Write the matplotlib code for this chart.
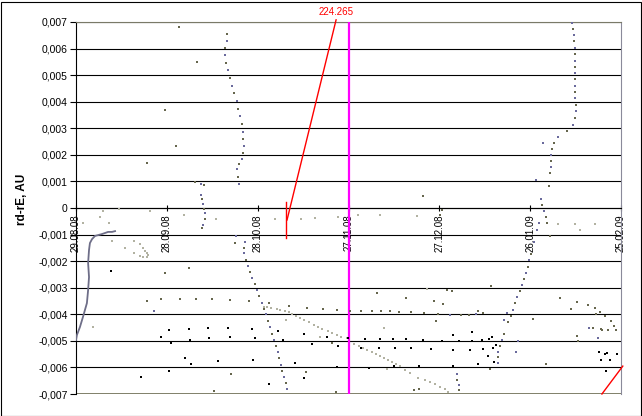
import numpy as np
import matplotlib
matplotlib.use("Agg")
import matplotlib.pyplot as plt
from matplotlib.ticker import FuncFormatter
from matplotlib.patches import Rectangle

# x = days since 29.08.08, y = rd-rE in 1e-3 AU
date_ticks = [0, 30, 60, 90, 120, 150, 180]
date_labels = ["29.08.08", "28.09.08", "28.10.08", "27.11.08", "27.12.08", "26.01.09", "25.02.09"]

# dotted track (autumn)
track1_x = [49.9, 49.9, 49.2, 49.2, 49.5, 50.2, 50.9, 51.5, 52.2, 53.2, 53.5, 54.2, 54.8, 55.1,
            55.1, 55.5, 55.1, 54.8, 53.8, 53.2, 53.5, 53.8,
            39.3, 41.3, 42.3, 41.3, 41.6, 41.9, 42.3, 42.6, 42.6, 41.9, 41.6,
            52.8, 52.5, 55.8, 55.5, 55.5, 56.1, 56.8, 57.5, 58.1, 59.1, 59.8, 60.4, 61.4, 62.1,
            62.7, 63.4, 64.1, 64.7, 65.4, 66.0, 66.7, 67.0, 67.7, 68.0, 68.7, 69.3, 69.7]
track1_y = [6.55, 6.29, 6.02, 5.76, 5.46, 5.19, 4.89, 4.59, 4.33, 4.03, 3.73, 3.46, 3.16, 2.86,
            2.60, 2.33, 2.07, 1.84, 1.66, 1.47, 1.17, 0.90,
            0.98, 0.90, 0.87, 0.49, 0.34, 0.15, -0.04, -0.19, -0.41, -0.64, -0.75,
            -1.05, -1.32, -1.28, -1.51, -1.69, -1.96, -2.18, -2.41, -2.63, -2.86, -3.09, -3.31, -3.58, -3.80,
            -3.99, -4.25, -4.48, -4.74, -4.97, -5.19, -5.42, -5.65, -5.91, -6.14, -6.36, -6.59, -6.81]

# dotted track (winter)
track2_x = [163.8, 164.1, 164.4, 164.4, 164.8, 164.8, 164.8, 164.8, 164.8, 164.8, 164.8, 164.8, 164.8,
            165.1, 165.1, 164.8, 164.1, 162.1, 159.2, 157.8, 154.2, 157.2, 156.8, 156.8, 156.8, 156.5,
            151.9, 156.2, 153.5, 153.9, 154.5, 155.2, 152.9, 155.5, 152.2, 156.5, 151.2, 150.2, 149.6,
            149.3, 148.6, 147.9, 147.3, 146.6, 145.6, 145.0, 144.3, 143.6, 142.3, 142.6, 141.3, 141.3,
            140.7, 140.0, 139.3, 139.3, 139.3, 136.7, 125.8, 125.8, 126.5, 126.5]
track2_y = [6.96, 6.74, 6.51, 6.29, 6.02, 5.80, 5.53, 5.31, 5.08, 4.86, 4.59, 4.37, 4.14,
            3.88, 3.65, 3.39, 3.12, 2.90, 2.67, 2.45, 2.45, 2.22, 1.99, 1.77, 1.54, 1.32,
            1.05, 0.83, 0.34, 0.11, -0.11, -0.34, -0.56, -0.56, -0.83, -1.05, -1.28, -1.73, -1.96,
            -2.22, -2.45, -2.67, -2.90, -3.12, -3.35, -3.58, -3.84, -4.07, -3.95, -4.29, -4.22, -4.74,
            -4.97, -5.19, -5.42, -5.61, -5.83, -6.06, -6.25, -6.47, -6.66, -6.85]

# solid curve at the start
curve_x = [0.0, 0.3, 1.3, 2.3, 3.6, 4.0, 4.3, 4.0, 4.3, 4.6, 5.3, 6.3, 7.3, 8.6, 9.6, 10.6, 11.9, 12.9]
curve_y = [-4.97, -4.78, -4.48, -4.10, -3.58, -3.09, -2.60, -2.07, -1.58, -1.32, -1.17, -1.05,
           -1.02, -0.98, -0.94, -0.90, -0.90, -0.87]

light_x = [2.3, 7.9, 8.9, 14.2, 10.9, 11.9, 16.2, 19.2, 19.2, 21.1, 22.1, 22.8, 23.4, 23.8, 23.4,
           22.1, 21.1, 24.4, 5.6, 35.7, 46.2, 65.7, 74.3, 78.9, 86.5, 93.1, 100.4, 112.6, 159.2,
           164.8, 166.4, 171.4, 69.3, 80.6, 101.7, 102.7, 115.9,
           62.1, 63.1, 64.4, 66.4, 67.4, 69.0, 70.3, 71.3, 72.6, 74.0, 75.3, 76.9, 78.6, 79.9, 81.2,
           83.2, 84.5, 86.2, 87.5, 89.5, 91.8, 93.4, 94.8, 96.1, 97.7, 99.1, 100.4, 101.7, 103.0,
           104.3, 105.7, 107.0, 108.6, 110.3, 112.9, 115.2, 116.9, 118.5, 120.2, 121.8, 122.8]
light_y = [-0.56, -0.34, -0.11, -0.04, -0.56, -1.24, -1.51, -1.24, -1.69, -1.36, -1.51, -1.62, -1.69,
           -1.77, -1.84, -1.84, -1.81, -0.11, -4.48, -0.26, -0.41, -0.41, -0.41, -0.38, -0.34, -0.26,
           -0.26, -0.30, -0.60, -0.60, -0.83, -0.60, -4.22, -4.86, -4.52, -6.06, -3.05,
           -3.73, -3.73, -3.76, -3.80, -3.84, -3.88, -3.91, -3.99, -4.07, -4.14, -4.22, -4.29, -4.40,
           -4.48, -4.55, -4.63, -4.71, -4.78, -4.86, -4.89, -5.12, -5.19, -5.27, -5.34, -5.42, -5.50,
           -5.57, -5.65, -5.72, -5.80, -5.87, -5.95, -6.10, -6.21, -6.40, -6.47, -6.55, -6.62, -6.74,
           -6.81, -6.93]

black_x = [11.6, 30.7, 37.3, 43.6, 50.2, 58.1, 66.7, 28.1, 31.4, 37.6, 43.9, 50.9, 59.1, 68.4,
           36.0, 38.0, 46.9, 58.4, 72.3, 30.7, 21.5, 63.7, 75.3, 77.9, 82.9, 86.5, 89.8, 94.1, 95.4,
           100.1, 100.4, 105.3, 104.7, 110.6, 109.0, 114.6, 117.2, 120.9, 75.3, 86.2, 96.7, 105.0,
           113.3, 124.5, 126.5, 130.8, 130.8, 134.1, 136.4, 137.4, 138.7, 124.5, 130.1, 134.4, 137.7,
           136.0, 138.0, 132.7, 124.5, 172.7, 174.7, 175.3, 173.4, 176.3, 178.6, 175.0]
black_y = [-2.37, -4.59, -4.55, -4.52, -4.52, -4.55, -4.63, -4.86, -5.08, -4.97, -4.89, -4.86, -4.89,
           -4.97, -5.65, -5.87, -5.76, -5.72, -5.83, -6.14, -6.36, -6.62, -4.74, -5.12, -4.86, -5.19,
           -4.89, -5.27, -4.93, -5.27, -4.93, -5.27, -4.93, -5.27, -4.93, -4.97, -5.31, -5.01, -6.40,
           -5.98, -6.02, -5.95, -5.95, -4.78, -5.01, -4.67, -5.01, -4.97, -4.93, -4.86, -5.16, -5.34,
           -5.34, -5.31, -5.27, -5.57, -5.80, -5.87, -5.95, -5.42, -5.50, -5.46, -5.72, -5.72, -5.50,
           -6.14]

olive_x = [34.0, 40.0, 29.4, 33.0, 23.4, 29.4, 37.3, 23.4, 28.1, 34.3, 39.6, 44.9, 50.9, 57.1, 63.7,
           70.3, 45.6, 51.2, 76.3, 81.6, 86.2, 90.5, 94.1, 97.7, 100.7, 103.7, 106.7, 110.6, 114.9,
           119.5, 99.4, 109.0, 118.2, 121.2, 122.5, 124.2, 118.9, 84.5, 75.9, 85.9, 111.6, 113.3,
           137.0, 127.1, 129.8, 132.7, 134.4, 150.9, 159.8, 165.4, 163.5, 169.1, 171.4, 173.0, 174.7,
           171.7, 176.7, 177.6, 178.3, 175.7, 173.7, 165.4, 165.8, 170.7, 173.4, 155.2, 114.6, 120.9,
           120.2]
olive_y = [6.81, 5.50, 3.69, 2.33, 1.69, -2.45, -2.26, -3.50, -3.43, -3.43, -3.43, -3.43, -3.46, -3.50,
           -3.58, -3.69, -6.89, -6.25, -3.76, -3.80, -3.84, -3.88, -3.88, -3.88, -3.88, -3.88, -3.91,
           -3.91, -3.95, -3.99, -3.20, -3.39, -3.50, -3.61, -3.09, -3.12, -4.25, -5.08, -6.17, -6.93,
           -6.85, -6.81, -2.94, -4.03, -4.03, -3.88, -3.95, -4.18, -3.39, -3.54, -3.80, -3.65, -3.76,
           -3.91, -4.07, -3.99, -4.25, -4.44, -4.59, -4.59, -4.59, -4.82, -5.01, -4.52, -4.55, -5.87,
           0.45, -0.08, -0.26]

blue_x = [25.8, 132.1, 169.4, 172.4, 123.5, 145.9, 145.3]
blue_y = [-3.88, -3.99, -4.52, -4.89, -4.03, -5.01, -5.42]

# red marker line and label
red_x = [69.7, 85.9]
red_y = [-0.45, 7.08]
red_tick_x = [69.3, 69.3]
red_tick_y = [0.23, -1.13]
red_label = "224.265"
red2_x = [173.7, 180.6]
red2_y = [-7.0, -5.95]
now_day = 90

OLIVE = "#66664d"
BLUE = "#6a6a9c"
LIGHT = "#b2b2a2"


def k(v):
    return np.array(v) * 1e-3


def dots(ax, x, y, color):
    ax.plot(x, k(y), ls="none", marker="s", ms=1.6, mew=0, color=color, zorder=4)


def main():
    plt.rcParams["font.family"] = ["Liberation Sans", "DejaVu Sans"]
    fig = plt.figure(figsize=(6.42, 4.16), dpi=100)
    ax = fig.add_axes([76 / 642, 22 / 416, 545 / 642, 372 / 416])

    ax.set_xlim(0, 180)
    ax.set_ylim(-0.007, 0.007)

    for v in np.arange(-6, 8, 1):
        ax.axhline(v * 1e-3, color="black", lw=0.8, zorder=1)
    ax.axhline(-0.007, color="#6b6b50", lw=1.2, zorder=1)

    ax.axvline(now_day, color="#ff00ff", lw=1.6, zorder=3)

    ax.plot(curve_x, k(curve_y), color="#6e6e88", lw=1.3, zorder=4)
    dots(ax, track1_x[::2], track1_y[::2], OLIVE)
    dots(ax, track1_x[1::2], track1_y[1::2], BLUE)
    dots(ax, track2_x[::2], track2_y[::2], BLUE)
    dots(ax, track2_x[1::2], track2_y[1::2], OLIVE)
    dots(ax, light_x, light_y, LIGHT)
    dots(ax, olive_x, olive_y, OLIVE)
    dots(ax, blue_x, blue_y, BLUE)
    dots(ax, black_x, black_y, "black")

    ax.plot(red_x, k(red_y), color="red", lw=1.0, zorder=5, clip_on=False)
    ax.plot(red_tick_x, k(red_tick_y), color="red", lw=1.0, zorder=5)
    ax.plot(red2_x, k(red2_y), color="red", lw=1.0, zorder=5, clip_on=False)
    ax.text(red_x[1], 0.00738, red_label, color="red", fontsize=7, ha="center", va="center")

    ax.spines["bottom"].set_position(("data", 0))
    ax.spines["bottom"].set_color("black")
    ax.spines["left"].set_color("black")
    ax.spines["top"].set_color("#7a7a68")
    ax.spines["right"].set_color("#8a8a9a")
    for s in ax.spines.values():
        s.set_linewidth(0.8)

    ax.set_xticks(date_ticks)
    ax.set_xticklabels(date_labels, rotation=90, fontsize=7)
    ax.tick_params(axis="x", direction="inout", length=5, width=0.8, pad=2)
    ax.set_yticks(np.arange(-7, 8, 1) * 1e-3)
    ax.yaxis.set_major_formatter(FuncFormatter(
        lambda v, p: "0" if abs(v) < 1e-9 else f"{v:.3f}".replace(".", ",")))
    ax.tick_params(axis="y", direction="out", length=4, width=0.8, labelsize=7.5, pad=2)

    fig.text(22 / 642, 0.52, "rd-rE, AU", rotation=90, fontsize=8.5, fontweight="bold",
             ha="center", va="center")
    fig.patches.append(Rectangle((0.5 / 642, 0.5 / 416), 640 / 642, 414 / 416, fill=False,
                                 edgecolor="black", lw=0.8, transform=fig.transFigure))

    fig.savefig("out.png", dpi=100)


if __name__ == "__main__":
    main()
